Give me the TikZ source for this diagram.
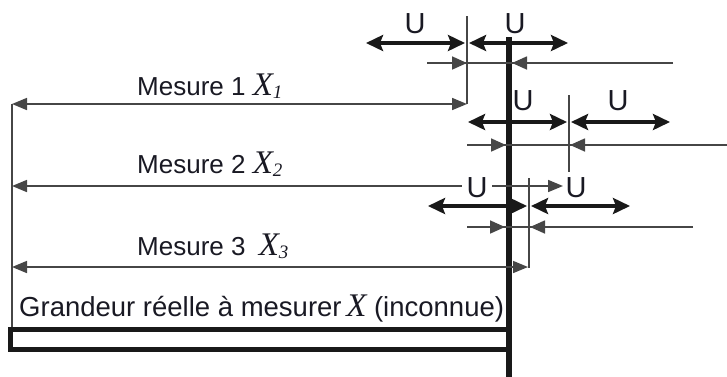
\documentclass[tikz,border=0pt]{standalone}
\usepackage{fontspec}
\setmainfont{Liberation Sans}
\newfontfamily\serifit{Liberation Serif}
\usepackage{tikz}
\usetikzlibrary{arrows.meta}
\definecolor{linegray}{RGB}{70,70,70}
\definecolor{textdark}{RGB}{25,25,35}
\newcommand{\mesfont}{\fontsize{26}{28}\selectfont}
\newcommand{\ufont}{\fontsize{29}{30}\selectfont}
\newcommand{\bigX}{{\serifit\itshape\fontsize{33}{33}\selectfont X}}
\newcommand{\Xmes}[1]{\bigX\raisebox{-3pt}{\serifit\itshape\fontsize{19}{19}\selectfont #1}}
\newcommand{\Uwidth}{99}

\begin{document}
\begin{tikzpicture}[x=1pt, y=-1pt,
  thinline/.style={line width=1.7pt, color=linegray},
  thinarr/.style={thinline, -{Triangle[length=15pt,width=13pt]}},
  dimarr/.style={thinline, {Triangle[length=15pt,width=12pt]}-{Triangle[length=15pt,width=12pt]}},
  uarr/.style={line width=4.5pt, color=black!90,
    {Stealth[length=17pt,width=16pt,inset=3pt]}-{Stealth[length=17pt,width=16pt,inset=3pt]}},
  ulabel/.style={font=\ufont, text=textdark, inner sep=0pt},
  meslabel/.style={font=\mesfont, text=textdark, anchor=base west, inner sep=0pt}]
  \useasboundingbox (0,0) rectangle (727,376);

  % true value X and the measured object
  \coordinate (Xtop) at (509,37);
  \coordinate (Xbot) at (509,380);
  \draw[line width=6pt, color=black!90] (Xtop) -- (Xbot);
  \draw[line width=5pt, color=black!90] (10.5,329.5) rectangle (509,349.5);

  % zero reference
  \coordinate (zero1) at (12,104);
  \coordinate (zero2) at (12,186);
  \coordinate (zero3) at (12,267);
  \coordinate (zerob) at (12,327);
  \draw[thinline] (zero1) -- (zerob);

  % measured values
  \coordinate (x1t) at (467,16);  \coordinate (x1b) at (467,104);
  \coordinate (x2t) at (569,95);  \coordinate (x2b) at (569,172);
  \coordinate (x3t) at (529,178); \coordinate (x3b) at (529,268);
  \draw[thinline] (x1t) -- (x1b);
  \draw[thinline] (x2t) -- (x2b);
  \draw[thinline] (x3t) -- (x3b);

  % measurement arrows
  \draw[dimarr] (zero1) -- (x1b);
  \draw[dimarr] (zero2) -- (563,186);
  \draw[dimarr] (zero3) -- (528,267);

  % uncertainty U on both sides
  \foreach \xm/\yy in {467/43, 569/122, 529/206} {
    \draw[uarr] (\xm-\Uwidth-2,\yy) -- (\xm-2,\yy);
    \draw[uarr] (\xm+2,\yy) -- (\xm+\Uwidth+2,\yy);
  }

  % gap between measure and true value
  \draw[thinline] (427,63) -- (673,63);
  \draw[thinarr] (427,63) -- (467,63);
  \draw[thinarr] (673,63) -- (512,63);
  \draw[thinline] (467,145) -- (727,145);
  \draw[thinarr] (467,145) -- (506,145);
  \draw[thinarr] (727,145) -- (570,145);
  \draw[thinline] (467,227) -- (693,227);
  \draw[thinarr] (467,227) -- (505,227);
  \draw[thinarr] (693,227) -- (530,227);

  % U labels
  \node[ulabel] (u1a) at (415,24) {U};
  \node[ulabel] (u1b) at (515,24) {U};
  \node[ulabel] (u2a) at (523,101) {U};
  \node[ulabel] (u2b) at (618,101) {U};
  \node[ulabel, fill=white, inner xsep=5pt] (u3a) at (477,188) {U};
  \node[ulabel] (u3b) at (576,188) {U};

  % texts
  \node[meslabel] (m1) at (137,95) {Mesure 1 \Xmes{1}};
  \node[meslabel] (m2) at (137,173) {Mesure 2 \Xmes{2}};
  \node[meslabel] (m3) at (137,255) {Mesure 3\hspace{6pt} \Xmes{3}};
  \node[meslabel, font=\fontsize{27.5}{29}\selectfont] (grand) at (19,316)
    {Grandeur réelle à mesurer\,\bigX{} (inconnue)};
\end{tikzpicture}
\end{document}
